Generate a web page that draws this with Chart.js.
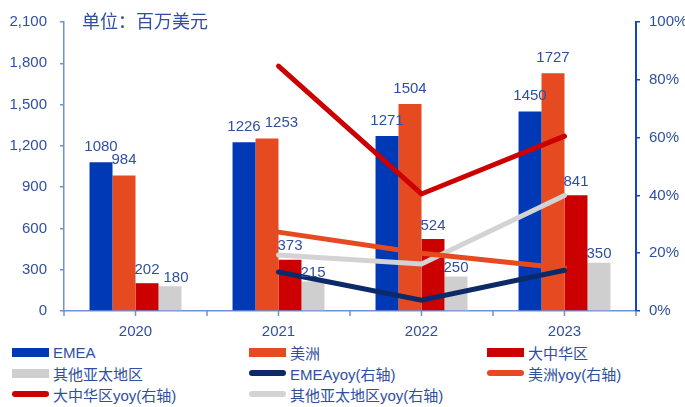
<!DOCTYPE html>
<html>
<head>
<meta charset="utf-8">
<script src="https://cdn.jsdelivr.net/npm/chart.js@4/dist/chart.umd.min.js"></script>
<style>
  html, body { margin: 0; padding: 0; background: #fff; }
  #wrap { position: relative; width: 685px; height: 407px; overflow: hidden; }
  #c { position: absolute; left: 0; top: 0; }
  #legend { position: absolute; left: 0; top: 342px; width: 685px; height: 65px; }
  .item { position: absolute; height: 20px; display: flex; align-items: center;
          font: 15px "Liberation Sans", Arial, "Noto Sans CJK SC", sans-serif; color: #2F4FA0; white-space: nowrap; }
  .sw { display: inline-block; width: 37px; margin-right: 4px; }
</style>
</head>
<body>
<div id="wrap">
  <canvas id="c" width="685" height="340"></canvas>
  <div id="legend"></div>
</div>
<script>
// 年份
const years = ['2020', '2021', '2022', '2023'];

// 各地区营收（百万美元）
const emea = [1080, 1226, 1271, 1450];
const americas = [984, 1253, 1504, 1727];
const greaterChina = [202, 373, 524, 841];
const otherApac = [180, 215, 250, 350];

// 同比增速（%，右轴）
const emeaYoy = [null, 13.5, 3.7, 14.1];
const americasYoy = [null, 27.3, 20.0, 14.8];
const greaterChinaYoy = [null, 84.7, 40.5, 60.5];
const otherApacYoy = [null, 19.4, 16.3, 40.0];

// 轴刻度
const leftTicks = [0, 300, 600, 900, 1200, 1500, 1800, 2100];
const rightTicks = [0, 20, 40, 60, 80, 100];

const TEXT = '#2F4FA0';
const FONT = '"Liberation Sans", Arial, "Noto Sans CJK SC", sans-serif';
const AXIS_LEFT = '#6C93D3';
const AXIS_RIGHT = '#1446C4';

const C_EMEA = '#0039B5';
const C_AM = '#E64A21';
const C_GC = '#CC0000';
const C_OA = '#D0CFCF';
const C_EMEA_L = '#0C2A68';
const C_OA_L = '#D3D3D3';

const barDs = (label, data, color, gap) => ({
  type: 'bar', label, data, backgroundColor: color, borderWidth: 0,
  yAxisID: 'y', order: 2, categoryPercentage: 0.643, barPercentage: 1.0, labelGap: gap
});
const lineDs = (label, data, color, order) => ({
  type: 'line', label, data, borderColor: color, backgroundColor: color,
  borderWidth: 5, pointRadius: 0, tension: 0, yAxisID: 'y1', order,
  borderCapStyle: 'round', borderJoinStyle: 'miter', spanGaps: false
});

const datasets = [
  barDs('EMEA', emea, C_EMEA, 10),
  barDs('美洲', americas, C_AM, 10),
  barDs('大中华区', greaterChina, C_GC, 8),
  barDs('其他亚太地区', otherApac, C_OA, 3),
  lineDs('EMEAyoy(右轴)', emeaYoy, C_EMEA_L, 0),
  lineDs('美洲yoy(右轴)', americasYoy, C_AM, 1),
  lineDs('大中华区yoy(右轴)', greaterChinaYoy, C_GC, 1),
  lineDs('其他亚太地区yoy(右轴)', otherApacYoy, C_OA_L, 1)
];

// 柱顶数值（同组内重叠时右移）、标题与横轴刻度线
const extras = {
  id: 'extras',
  afterDatasetsDraw(chart) {
    const ctx = chart.ctx;
    ctx.save();
    ctx.font = '15px ' + FONT;
    ctx.fillStyle = TEXT;
    ctx.textAlign = 'center';
    ctx.textBaseline = 'bottom';
    const placed = years.map(() => []);
    chart.data.datasets.forEach((ds, di) => {
      if (ds.type !== 'bar') return;
      const meta = chart.getDatasetMeta(di);
      meta.data.forEach((el, i) => {
        const txt = String(ds.data[i]);
        const w = ctx.measureText(txt).width;
        let cx = el.x;
        const yb = el.y - ds.labelGap + 2;
        const box = () => ({ l: cx - w / 2, r: cx + w / 2, t: yb - 11, b: yb });
        placed[i].forEach(p => {
          const b = box();
          if (b.l < p.r + 2 && b.r > p.l && b.t < p.b && b.b > p.t) cx = p.r + 4 + w / 2;
        });
        placed[i].push(box());
        ctx.fillText(txt, cx, yb);
      });
    });
    // 标题
    ctx.font = '18px ' + FONT;
    ctx.textAlign = 'left';
    ctx.textBaseline = 'middle';
    ctx.fillText('单位：百万美元', 82, 23);
    // 横轴刻度线（类别边界与中心）
    const xs = chart.scales.x;
    const bottom = chart.chartArea.bottom;
    ctx.strokeStyle = AXIS_LEFT;
    ctx.lineWidth = 1.5;
    const n = years.length;
    const step = n > 1 ? xs.getPixelForValue(1) - xs.getPixelForValue(0) : 0;
    for (let i = 0; i < n; i++) {
      const cx = xs.getPixelForValue(i);
      [cx - step / 2, cx].forEach(px => {
        ctx.beginPath(); ctx.moveTo(px, bottom); ctx.lineTo(px, bottom + 5); ctx.stroke();
      });
    }
    const lastX = xs.getPixelForValue(n - 1) + step / 2;
    ctx.beginPath(); ctx.moveTo(lastX, bottom); ctx.lineTo(lastX, bottom + 5); ctx.stroke();
    ctx.restore();
  }
};

new Chart(document.getElementById('c'), {
  data: { labels: years, datasets },
  options: {
    responsive: false,
    animation: false,
    layout: { padding: { top: 14, left: 0, right: 0, bottom: 0 } },
    plugins: { legend: { display: false }, tooltip: { enabled: false } },
    scales: {
      x: {
        offset: true,
        grid: { display: false, drawTicks: false },
        border: { display: true, color: AXIS_LEFT, width: 1.5 },
        ticks: { color: TEXT, font: { size: 15, family: FONT }, padding: 12 },
        afterFit(s) { s.height = 29; }
      },
      y: {
        position: 'left', min: 0, max: 2100,
        afterBuildTicks(s) { s.ticks = leftTicks.map(v => ({ value: v })); },
        grid: { drawOnChartArea: false, tickLength: 4, color: AXIS_LEFT, lineWidth: 1.5 },
        border: { display: true, color: AXIS_LEFT, width: 1.5 },
        ticks: { color: TEXT, font: { size: 15, family: FONT }, padding: 13,
                 callback: v => v.toLocaleString('en-US') },
        afterFit(s) { s.width = 64; }
      },
      y1: {
        position: 'right', min: 0, max: 100,
        afterBuildTicks(s) { s.ticks = rightTicks.map(v => ({ value: v })); },
        grid: { drawOnChartArea: false, tickLength: 4, color: AXIS_RIGHT, lineWidth: 1.5 },
        border: { display: true, color: AXIS_RIGHT, width: 2 },
        ticks: { color: TEXT, font: { size: 15, family: FONT }, padding: 9,
                 callback: v => v + '%' },
        afterFit(s) { s.width = 49; }
      }
    }
  },
  plugins: [extras]
});

// 图例（三列）
const legendItems = [
  { label: 'EMEA', color: C_EMEA, kind: 'bar' },
  { label: '美洲', color: C_AM, kind: 'bar' },
  { label: '大中华区', color: C_GC, kind: 'bar' },
  { label: '其他亚太地区', color: C_OA, kind: 'bar' },
  { label: 'EMEAyoy(右轴)', color: C_EMEA_L, kind: 'line' },
  { label: '美洲yoy(右轴)', color: C_AM, kind: 'line' },
  { label: '大中华区yoy(右轴)', color: C_GC, kind: 'line' },
  { label: '其他亚太地区yoy(右轴)', color: C_OA_L, kind: 'line' }
];
const colX = [12, 249, 487];
const rowY = [0, 21, 42];
const lg = document.getElementById('legend');
legendItems.forEach((it, i) => {
  const d = document.createElement('div');
  d.className = 'item';
  d.style.left = colX[i % 3] + 'px';
  d.style.top = rowY[Math.floor(i / 3)] + 'px';
  const sw = document.createElement('span');
  sw.className = 'sw';
  sw.style.background = it.color;
  sw.style.height = it.kind === 'bar' ? '9px' : '6px';
  if (it.kind === 'line') sw.style.borderRadius = '3px';
  d.appendChild(sw);
  d.appendChild(document.createTextNode(it.label));
  lg.appendChild(d);
});
</script>
</body>
</html>
